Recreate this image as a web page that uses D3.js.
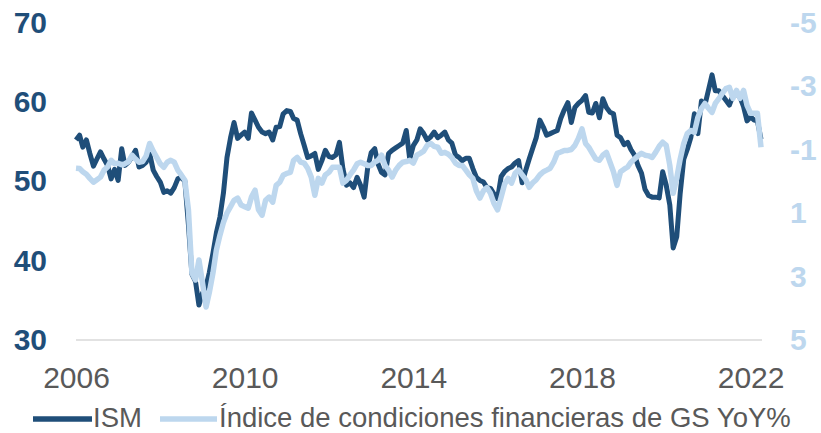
<!DOCTYPE html>
<html>
<head>
<meta charset="utf-8">
<script src="https://cdn.jsdelivr.net/npm/d3@7"></script>
<style>
  body { margin: 0; background: #ffffff; }
  svg { display: block; font-family: "Liberation Sans", Arial, sans-serif; }
</style>
</head>
<body>
<div id="okvir"></div>
<script>
// Serie mensual desde enero 2006
const fechaInicio = new Date(2006, 0, 1);

// ISM manufacturero (eje izquierdo)
const ism = [
  55.2, 55.8, 54.3, 55.2, 53.5, 51.9, 52.8, 53.7, 52.8, 52.0, 50.3, 51.5, // 2006
  50.1, 54.1, 52.0, 52.4, 53.1, 53.9, 51.8, 52.0, 52.4, 53.5, 51.4, 50.6, // 2007
  49.9, 48.6, 48.8, 48.5, 49.2, 50.3, 50.5, 50.0, 44.5, 38.3, 37.4, 34.4, // 2008
  35.9, 36.8, 38.5, 40.9, 43.5, 45.5, 48.5, 53.0, 55.5, 57.4, 55.4, 55.8, // 2009
  56.2, 55.4, 58.6, 57.7, 56.8, 56.2, 56.0, 56.2, 55.2, 56.8, 56.9, 58.5, // 2010
  58.9, 58.8, 57.9, 57.7, 56.0, 54.5, 53.0, 53.2, 53.5, 51.5, 52.6, 53.9, // 2011
  53.1, 53.0, 53.3, 54.9, 51.6, 49.5, 49.8, 49.2, 50.5, 49.5, 48.0, 51.6, // 2012
  53.6, 54.1, 52.2, 51.1, 50.8, 53.5, 53.9, 54.2, 54.5, 54.8, 56.4, 52.8, // 2013
  54.5, 55.2, 56.6, 56.0, 55.2, 55.6, 56.2, 55.5, 55.8, 56.2, 55.2, 54.8, // 2014
  53.3, 53.0, 52.6, 52.9, 52.9, 51.6, 50.5, 50.1, 49.9, 49.2, 49.1, 48.4, // 2015
  47.8, 50.6, 51.2, 51.6, 51.8, 52.3, 52.6, 49.8, 51.4, 52.8, 54.2, 55.5, // 2016
  57.7, 56.8, 55.8, 56.0, 56.2, 56.4, 57.9, 59.0, 59.9, 57.4, 59.3, 59.8, // 2017
  60.2, 60.8, 58.7, 58.6, 59.8, 58.0, 60.4, 59.3, 58.7, 58.5, 55.8, 55.5, // 2018
  54.6, 54.9, 54.0, 53.3, 52.0, 51.0, 49.0, 48.2, 48.0, 48.0, 47.9, 51.2, // 2019
  49.5, 47.0, 41.6, 43.0, 48.5, 52.8, 54.0, 55.5, 58.5, 56.0, 60.1, 59.6, // 2020
  61.5, 63.4, 61.4, 61.4, 60.8, 60.2, 59.6, 60.8, 61.0, 60.6, 59.4, 57.6, // 2021
  58.1, 57.7, 57.6, 55.3                                                  // 2022
];

// Indice de condiciones financieras de GS, variacion anual (eje derecho, invertido)
const gsYoY = [
  -0.41, -0.40, -0.30, -0.22, -0.09, 0.03, -0.05, -0.13, -0.35, -0.45, -0.66, -0.55, // 2006
  -0.57, -0.52, -0.55, -0.62, -0.82, -0.70, -0.60, -0.62, -0.80, -1.19, -0.95, -0.75, // 2007
  -0.55, -0.44, -0.60, -0.66, -0.60, -0.35, -0.20, -0.03, 0.90, 2.89, 3.11, 2.48,    // 2008
  3.20, 3.96, 3.50, 2.90, 2.17, 1.70, 1.30, 1.00, 0.80, 0.60, 0.53, 0.75,            // 2009
  0.80, 0.85, 0.50, 0.28, 0.90, 1.07, 0.60, 0.50, 0.66, 0.13, 0.03, -0.19,           // 2010
  -0.25, -0.28, -0.66, -0.75, -0.60, -0.57, -0.41, -0.13, 0.44, -0.09, 0.06, -0.20,  // 2011
  -0.28, -0.44, -0.44, -0.44, 0.06, -0.03, -0.20, -0.35, -0.55, -0.60, -0.55, -0.50, // 2012
  -0.50, -0.60, -0.66, -0.82, -0.50, -0.35, -0.13, -0.35, -0.50, -0.60, -0.62, -0.66, // 2013
  -0.57, -0.82, -0.88, -0.95, -1.13, -1.19, -1.10, -1.07, -0.88, -0.91, -0.85, -0.75, // 2014
  -0.57, -0.50, -0.50, -0.35, -0.20, -0.09, 0.30, 0.53, 0.30, 0.20, 0.38, 0.70,      // 2015
  0.90, 0.50, 0.10, -0.09, 0.06, -0.25, -0.35, -0.20, -0.05, 0.19, 0.05, -0.05,      // 2016
  -0.20, -0.30, -0.35, -0.41, -0.60, -0.88, -0.92, -0.97, -0.97, -1.00, -1.13, -1.35, // 2017
  -1.65, -1.19, -1.07, -0.88, -0.70, -0.66, -0.82, -0.91, -0.60, -0.30, 0.13, -0.30, // 2018
  -0.38, -0.45, -0.60, -0.70, -0.80, -0.88, -0.82, -0.80, -0.75, -0.91, -1.10, -1.23, // 2019
  -1.13, -0.50, 0.38, -0.10, -0.70, -1.19, -1.50, -1.60, -1.54, -2.01, -2.29, -2.45, // 2020
  -2.30, -2.17, -2.45, -2.60, -2.77, -2.92, -2.96, -2.61, -2.86, -2.61, -2.86, -2.39, // 2021
  -2.14, -2.14, -2.14, -1.07                                                         // 2022
];

const anosEje = [2006, 2010, 2014, 2018, 2022];
const ticksIzq = [30, 40, 50, 60, 70];
const ticksDer = [-5, -3, -1, 1, 3, 5];
const nombres = ["ISM", "Índice de condiciones financieras de GS YoY%"];

const colorIsm = "#1f4e79";
const colorGs = "#bdd7ee";

function crtaj() {
    const mes = i => d3.timeMonth.offset(fechaInicio, i);
    const podatci = ism.map((v, i) => ({ fecha: mes(i), ism: v, gs: gsYoY[i] }));

    const dim = { ancho: 821, alto: 433, izq: 76, der: 761, arriba: 22.5, abajo: 340 };

    const svg = d3.select("#okvir").append("svg")
        .attr("width", dim.ancho)
        .attr("height", dim.alto);

    const xSkala = d3.scaleTime()
        .domain([fechaInicio, mes(ism.length - 1)])
        .range([dim.izq, dim.der]);

    const yIzq = d3.scaleLinear().domain([30, 70]).range([dim.abajo, dim.arriba]);
    // eje derecho invertido: -5 arriba, 5 abajo
    const yDer = d3.scaleLinear().domain([-5, 5]).range([dim.arriba, dim.abajo]);

    // linea base
    svg.append("line")
        .attr("x1", dim.izq).attr("x2", dim.der + 1)
        .attr("y1", dim.abajo).attr("y2", dim.abajo)
        .attr("stroke", "#d9d9d9")
        .attr("stroke-width", 1.5);

    // eje x
    const xOs = svg.append("g")
        .attr("transform", `translate(0,${dim.abajo})`)
        .call(d3.axisBottom(xSkala)
            .tickValues(anosEje.map(a => new Date(a, 0, 1)))
            .tickFormat(d3.timeFormat("%Y"))
            .tickSize(0)
            .tickPadding(27));
    xOs.select(".domain").remove();
    xOs.selectAll("text")
        .attr("fill", "#595959")
        .style("font-size", "30px")
        .style("font-family", "Liberation Sans, Arial, sans-serif");

    // eje izquierdo
    const yOsIzq = svg.append("g")
        .attr("transform", `translate(${dim.izq},0)`)
        .call(d3.axisLeft(yIzq).tickValues(ticksIzq).tickSize(0).tickPadding(29));
    yOsIzq.select(".domain").remove();
    yOsIzq.selectAll("text")
        .attr("fill", colorIsm)
        .style("font-size", "30px")
        .style("font-weight", "bold")
        .style("font-family", "Liberation Sans, Arial, sans-serif");

    // eje derecho (guion normal, no el signo menos de d3)
    const yOsDer = svg.append("g")
        .attr("transform", `translate(${dim.der + 1},0)`)
        .call(d3.axisRight(yDer).tickValues(ticksDer)
            .tickFormat(d => String(d))
            .tickSize(0).tickPadding(28));
    yOsDer.select(".domain").remove();
    yOsDer.selectAll("text")
        .attr("fill", colorGs)
        .style("font-size", "30px")
        .style("font-weight", "bold")
        .style("font-family", "Liberation Sans, Arial, sans-serif");

    const lineaIsm = d3.line()
        .x(d => xSkala(d.fecha))
        .y(d => yIzq(d.ism));
    const lineaGs = d3.line()
        .x(d => xSkala(d.fecha))
        .y(d => yDer(d.gs));

    svg.append("path")
        .datum(podatci)
        .attr("d", lineaIsm)
        .attr("fill", "none")
        .attr("stroke", colorIsm)
        .attr("stroke-width", 5)
        .attr("stroke-linejoin", "round");

    svg.append("path")
        .datum(podatci)
        .attr("d", lineaGs)
        .attr("fill", "none")
        .attr("stroke", colorGs)
        .attr("stroke-width", 5.5)
        .attr("stroke-linejoin", "round");

    // leyenda
    const leyenda = [
        { nombre: nombres[0], color: colorIsm, x1: 33, x2: 92, xt: 93 },
        { nombre: nombres[1], color: colorGs, x1: 160, x2: 217, xt: 219 }
    ];
    const ley = svg.append("g");
    leyenda.forEach(l => {
        ley.append("line")
            .attr("x1", l.x1).attr("x2", l.x2)
            .attr("y1", 419).attr("y2", 419)
            .attr("stroke", l.color)
            .attr("stroke-width", 5.5);
        ley.append("text")
            .attr("x", l.xt)
            .attr("y", 427)
            .attr("fill", "#595959")
            .style("font-size", "27.5px")
            .text(l.nombre);
    });
}

crtaj();
</script>
</body>
</html>
